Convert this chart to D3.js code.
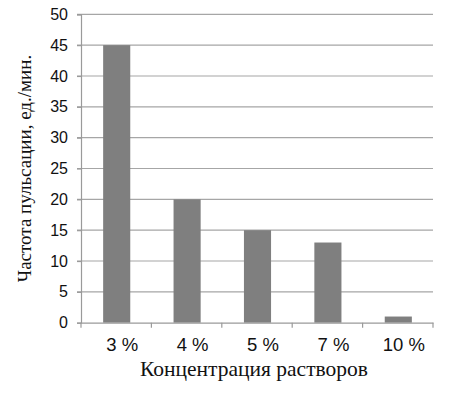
<!DOCTYPE html>
<html>
<head>
<meta charset="utf-8">
<script src="https://cdn.jsdelivr.net/npm/d3@7"></script>
<style>
  html, body { margin: 0; padding: 0; background: #fff; }
  svg { display: block; }
</style>
</head>
<body>
<svg id="chart" width="456" height="403"></svg>
<script>
const categories = ["3 %", "4 %", "5 %", "7 %", "10 %"];
const values = [45, 20, 15, 13, 1];
const yTicks = [0, 5, 10, 15, 20, 25, 30, 35, 40, 45, 50];
const xTitle = "Концентрация растворов";
const yTitle = "Частота пульсации, ед./мин.";

(function () {
const svg = d3.select("#chart");
const pLeft = 81, pRight = 433, pTop = 14.3, pBottom = 322.7;

const x = d3.scaleBand().domain(categories).range([pLeft, pRight]).padding(0);
const y = d3.scaleLinear().domain([0, 50]).range([pBottom, pTop]);

// gridlines
svg.append("g")
  .selectAll("line")
  .data(yTicks.filter(d => d > 0))
  .join("line")
  .attr("x1", pLeft - 4).attr("x2", pRight)
  .attr("y1", d => y(d)).attr("y2", d => y(d))
  .attr("stroke", "#a6a6a6").attr("stroke-width", 1.2);

// bars
const barW = x.bandwidth() * 0.385;
svg.append("g")
  .selectAll("rect")
  .data(values)
  .join("rect")
  .attr("x", (d, i) => x(categories[i]) + x.bandwidth() / 2 - barW / 2 + 0.5)
  .attr("y", d => y(d))
  .attr("width", barW)
  .attr("height", d => y(0) - y(d))
  .attr("fill", "#7f7f7f");

// y axis
const yAxis = svg.append("g")
  .attr("transform", `translate(${pLeft},0)`)
  .call(d3.axisLeft(y).tickValues(yTicks).tickSize(4).tickPadding(9));
yAxis.select(".domain").attr("stroke", "#9a9a9a").attr("stroke-width", 1.2);
yAxis.selectAll(".tick line").attr("stroke", "#9a9a9a").attr("stroke-width", 1.2);
yAxis.selectAll("text")
  .attr("font-family", "'Liberation Sans', Arial, sans-serif")
  .attr("font-size", 16).attr("fill", "#111");

// x axis
const xAxis = svg.append("g")
  .attr("transform", `translate(0,${pBottom})`)
  .call(d3.axisBottom(x).tickSize(0).tickPadding(15));
xAxis.select(".domain").attr("stroke", "#9a9a9a").attr("stroke-width", 1.2);
xAxis.selectAll("text")
  .attr("dx", 6)
  .attr("font-family", "'Liberation Sans', Arial, sans-serif")
  .attr("font-size", 18.5).attr("fill", "#111");

// category boundary ticks
const bounds = categories.map(c => x(c)).concat([x(categories[categories.length - 1]) + x.bandwidth()]);
svg.append("g")
  .selectAll("line")
  .data(bounds)
  .join("line")
  .attr("x1", d => d).attr("x2", d => d)
  .attr("y1", pBottom).attr("y2", pBottom + 5)
  .attr("stroke", "#9a9a9a").attr("stroke-width", 1.2);

// titles
svg.append("text")
  .attr("x", 254).attr("y", 376)
  .attr("text-anchor", "middle")
  .attr("font-family", "'Liberation Serif', 'Times New Roman', serif")
  .attr("font-size", 21.5).attr("fill", "#111")
  .text(xTitle);

svg.append("text")
  .attr("transform", "translate(31,168.5) rotate(-90)")
  .attr("text-anchor", "middle")
  .attr("font-family", "'Liberation Serif', 'Times New Roman', serif")
  .attr("font-size", 19).attr("fill", "#111")
  .text(yTitle);
})();
</script>
</body>
</html>
